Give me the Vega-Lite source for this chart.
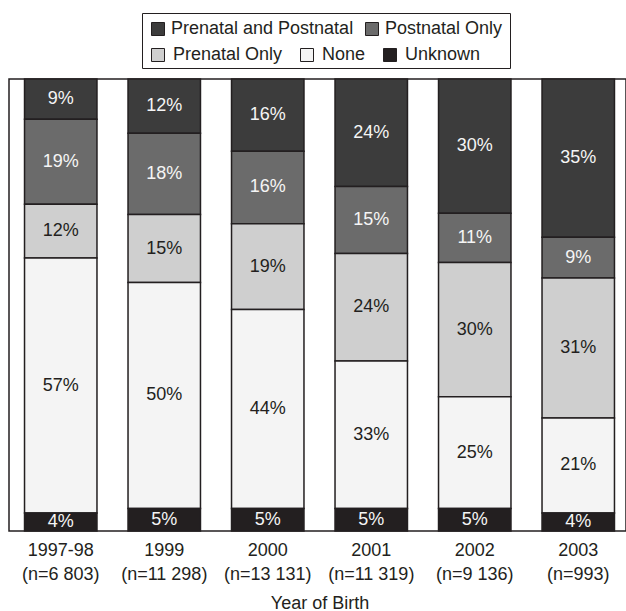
{
  "$schema": "https://vega.github.io/schema/vega-lite/v6.json",
  "width": 617,
  "height": 452,
  "autosize": {"type": "none"},
  "padding": {"left": 9, "top": 79, "right": 0, "bottom": 80},
  "background": "white",
  "config": {
    "view": {"stroke": "#231f20", "strokeWidth": 1.5},
    "font": "Liberation Sans"
  },
  "data": {
    "values": [
      {"group": "1997-98 (n=6 803)", "type": "Prenatal and Postnatal", "pct": 9},
      {"group": "1997-98 (n=6 803)", "type": "Postnatal Only", "pct": 19},
      {"group": "1997-98 (n=6 803)", "type": "Prenatal Only", "pct": 12},
      {"group": "1997-98 (n=6 803)", "type": "None", "pct": 57},
      {"group": "1997-98 (n=6 803)", "type": "Unknown", "pct": 4},
      {"group": "1999 (n=11 298)", "type": "Prenatal and Postnatal", "pct": 12},
      {"group": "1999 (n=11 298)", "type": "Postnatal Only", "pct": 18},
      {"group": "1999 (n=11 298)", "type": "Prenatal Only", "pct": 15},
      {"group": "1999 (n=11 298)", "type": "None", "pct": 50},
      {"group": "1999 (n=11 298)", "type": "Unknown", "pct": 5},
      {"group": "2000 (n=13 131)", "type": "Prenatal and Postnatal", "pct": 16},
      {"group": "2000 (n=13 131)", "type": "Postnatal Only", "pct": 16},
      {"group": "2000 (n=13 131)", "type": "Prenatal Only", "pct": 19},
      {"group": "2000 (n=13 131)", "type": "None", "pct": 44},
      {"group": "2000 (n=13 131)", "type": "Unknown", "pct": 5},
      {"group": "2001 (n=11 319)", "type": "Prenatal and Postnatal", "pct": 24},
      {"group": "2001 (n=11 319)", "type": "Postnatal Only", "pct": 15},
      {"group": "2001 (n=11 319)", "type": "Prenatal Only", "pct": 24},
      {"group": "2001 (n=11 319)", "type": "None", "pct": 33},
      {"group": "2001 (n=11 319)", "type": "Unknown", "pct": 5},
      {"group": "2002 (n=9 136)", "type": "Prenatal and Postnatal", "pct": 30},
      {"group": "2002 (n=9 136)", "type": "Postnatal Only", "pct": 11},
      {"group": "2002 (n=9 136)", "type": "Prenatal Only", "pct": 30},
      {"group": "2002 (n=9 136)", "type": "None", "pct": 25},
      {"group": "2002 (n=9 136)", "type": "Unknown", "pct": 5},
      {"group": "2003 (n=993)", "type": "Prenatal and Postnatal", "pct": 35},
      {"group": "2003 (n=993)", "type": "Postnatal Only", "pct": 9},
      {"group": "2003 (n=993)", "type": "Prenatal Only", "pct": 31},
      {"group": "2003 (n=993)", "type": "None", "pct": 21},
      {"group": "2003 (n=993)", "type": "Unknown", "pct": 4}
    ]
  },
  "transform": [
    {"calculate": "indexof(['Unknown','None','Prenatal Only','Postnatal Only','Prenatal and Postnatal'], datum.type)", "as": "k"},
    {"calculate": "datum.pct + '%'", "as": "txt"}
  ],
  "encoding": {
    "x": {
      "field": "group",
      "type": "nominal",
      "sort": null,
      "scale": {"range": [0, 621], "paddingInner": 0.3, "paddingOuter": 0.15},
      "axis": {
        "title": "Year of Birth",
        "titleFont": "Liberation Sans",
        "titleFontSize": 18,
        "titleFontWeight": "normal",
        "titleColor": "#231f20",
        "titlePadding": 11,
        "labelFont": "Liberation Sans",
        "labelFontSize": 18,
        "labelColor": "#231f20",
        "labelPadding": 10,
        "labelLineHeight": 24,
        "labelAngle": 0,
        "ticks": false,
        "domain": false,
        "labelExpr": "[slice(datum.label, 0, indexof(datum.label, ' (')), slice(datum.label, indexof(datum.label, ' (') + 1)]"
      }
    },
    "y": {"field": "pct", "type": "quantitative", "stack": "normalize", "axis": null},
    "order": {"field": "k", "type": "quantitative"}
  },
  "layer": [
    {
      "mark": {"type": "bar", "stroke": "#231f20", "strokeWidth": 1.5},
      "encoding": {
        "color": {
          "field": "type",
          "type": "nominal",
          "scale": {
            "domain": ["Prenatal and Postnatal", "Postnatal Only", "Prenatal Only", "None", "Unknown"],
            "range": ["#3c3c3c", "#6b6b6b", "#cfcfcf", "#f4f4f4", "#231f20"]
          },
          "legend": {
            "orient": "none",
            "direction": "horizontal",
            "legendX": 133,
            "legendY": -66,
            "values": ["Prenatal and Postnatal", "Postnatal Only"],
            "title": "\u00a0",
            "titleOrient": "bottom",
            "titleFontSize": 18,
            "titlePadding": 5,
            "columnPadding": 9,
            "padding": 7,
            "strokeColor": "#231f20",
            "symbolType": "square",
            "symbolSize": 169,
            "symbolStrokeColor": "#231f20",
            "symbolStrokeWidth": 1,
            "symbolOpacity": 1,
            "labelFont": "Liberation Sans",
            "labelFontSize": 18,
            "labelColor": "#231f20",
            "labelOffset": 4,
            "labelLimit": 300
          }
        }
      }
    },
    {
      "transform": [{"filter": {"field": "type", "oneOf": ["Prenatal Only", "None", "Unknown"]}}],
      "mark": {"type": "bar", "opacity": 0, "strokeWidth": 0},
      "encoding": {
        "fill": {
          "field": "type",
          "type": "nominal",
          "scale": {
            "domain": ["Prenatal Only", "None", "Unknown"],
            "range": ["#cfcfcf", "#f4f4f4", "#231f20"]
          },
          "legend": {
            "orient": "none",
            "direction": "horizontal",
            "legendX": 140,
            "legendY": -33,
            "values": ["Prenatal Only", "None", "Unknown"],
            "title": null,
            "columnPadding": 15,
            "padding": 0,
            "symbolType": "square",
            "symbolSize": 169,
            "symbolStrokeColor": "#231f20",
            "symbolStrokeWidth": 1,
            "symbolOpacity": 1,
            "labelFont": "Liberation Sans",
            "labelFontSize": 18,
            "labelColor": "#231f20",
            "labelOffset": 6,
            "labelLimit": 300
          }
        }
      }
    },
    {
      "mark": {"type": "text", "font": "Liberation Sans", "fontSize": 18, "baseline": "middle"},
      "encoding": {
        "y": {"field": "pct", "type": "quantitative", "stack": "normalize", "bandPosition": 0.5},
        "text": {"field": "txt"},
        "color": {
          "condition": {"test": "datum.type === 'None' || datum.type === 'Prenatal Only'", "value": "#231f20"},
          "value": "#f5f5f5"
        }
      }
    }
  ]
}
